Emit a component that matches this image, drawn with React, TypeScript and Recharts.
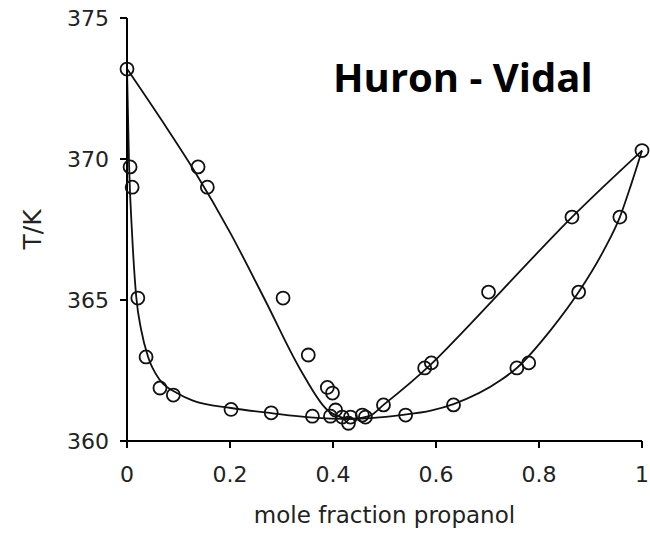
import { ComposedChart, Customized, Line, Scatter, XAxis, YAxis } from 'recharts'

// measured points (open circles)
const markerX = [
  0, 0.006, 0.01, 0.021, 0.037, 0.064, 0.09, 0.138, 0.156, 0.202, 0.28, 0.303, 0.352,
  0.36, 0.389, 0.399, 0.395, 0.405, 0.418, 0.434, 0.43, 0.457, 0.463, 0.498, 0.541,
  0.578, 0.591, 0.634, 0.702, 0.757, 0.78, 0.864, 0.877, 0.957, 1,
]
const markerT = [
  373.19, 369.72, 369.0, 365.07, 362.98, 361.88, 361.63, 369.72, 369.0, 361.12, 361.0, 365.07, 363.05,
  360.88, 361.9, 361.7, 360.88, 361.1, 360.85, 360.85, 360.63, 360.92, 360.85, 361.28, 360.92,
  362.59, 362.77, 361.28, 365.28, 362.59, 362.77, 367.94, 365.28, 367.94, 370.3,
]

// Huron-Vidal dew curve
const dewX = [0, 0.07, 0.13, 0.2, 0.268, 0.337, 0.389, 0.415, 0.435, 0.47, 0.498, 0.589, 0.661, 0.726, 0.864, 1]
const dewT = [373.2, 371.3, 369.6, 367.4, 365.0, 362.52, 361.1, 360.85, 360.78, 360.88, 361.28, 362.7, 364.04, 365.3, 367.94, 370.3]

// Huron-Vidal bubble curve
const bubbleX = [
  0, 0.004, 0.01, 0.018, 0.028, 0.041, 0.064, 0.097, 0.128, 0.202, 0.28, 0.356, 0.434,
  0.479, 0.531, 0.59, 0.634, 0.726, 0.757, 0.823, 0.877, 0.926, 0.957, 0.979, 1,
]
const bubbleT = [
  373.2, 369.8, 367.3, 365.1, 363.9, 362.98, 362.16, 361.7, 361.43, 361.17, 360.99, 360.84, 360.78,
  360.82, 360.92, 361.08, 361.31, 362.16, 362.59, 363.94, 365.28, 366.77, 367.94, 369.1, 370.3,
]

const xTicks = [0, 0.2, 0.4, 0.6, 0.8, 1]
const yTicks = [360, 365, 370, 375]

const zip = (xs: number[], ts: number[]) => xs.map((x, i) => ({ x, T: ts[i] }))

const markers = zip(markerX, markerT)
const dew = zip(dewX, dewT)
const bubble = zip(bubbleX, bubbleT)

const FONT = '"DejaVu Sans", sans-serif'
const INK = '#111'

function OpenCircle(props: any) {
  const { cx, cy } = props
  if (cx == null || cy == null) return <g />
  return <circle cx={cx} cy={cy} r={6.5} fill="none" stroke={INK} strokeWidth={1.8} />
}

function fmtX(v: number) {
  if (v === 0) return '0'
  if (v === 1) return '1'
  return v.toFixed(1)
}

export default function App() {
  return (
    <div style={{ position: 'absolute', left: 0, top: 0, width: 650, height: 533, background: '#fff' }}>
      <ComposedChart
        width={650}
        height={533}
        margin={{ top: 18, right: 8, bottom: 0, left: 0 }}
      >
        <XAxis
          dataKey="x"
          type="number"
          domain={[0, 1]}
          ticks={xTicks}
          tickFormatter={fmtX}
          height={92}
          tickSize={7}
          tickMargin={18}
          axisLine={{ stroke: '#000', strokeWidth: 2 }}
          tickLine={{ stroke: '#000', strokeWidth: 2 }}
          tick={{ fontSize: 22, fontFamily: FONT, fill: '#222' }}
          label={{
            value: 'mole fraction propanol',
            position: 'insideBottom',
            offset: 10,
            style: { fontSize: 23, fontFamily: FONT, fill: '#222' },
          }}
        />
        <XAxis
          xAxisId="top"
          orientation="top"
          dataKey="x"
          type="number"
          domain={[0, 1]}
          height={0}
          tick={false}
          tickLine={false}
          axisLine={{ stroke: '#000', strokeWidth: 2 }}
        />
        <YAxis
          dataKey="T"
          type="number"
          domain={[360, 375]}
          ticks={yTicks}
          width={127}
          tickSize={7}
          tickMargin={11}
          axisLine={{ stroke: '#000', strokeWidth: 2 }}
          tickLine={{ stroke: '#000', strokeWidth: 2 }}
          tick={{ fontSize: 22, fontFamily: FONT, fill: '#222' }}
          label={(p: any) => {
            const vb = p.viewBox || { y: 18, height: 423 }
            const cy = vb.y + vb.height / 2
            return (
              <text
                x={41}
                y={cy}
                transform={`rotate(-90, 41, ${cy})`}
                textAnchor="middle"
                fontSize={25}
                fontFamily={FONT}
                fill="#222"
              >
                T/K
              </text>
            )
          }}
        />
        <YAxis
          yAxisId="right"
          orientation="right"
          type="number"
          domain={[360, 375]}
          width={0}
          tick={false}
          tickLine={false}
          axisLine={{ stroke: '#000', strokeWidth: 2 }}
        />
        <Line
          data={dew}
          dataKey="T"
          type="monotone"
          stroke={INK}
          strokeWidth={1.8}
          dot={false}
          activeDot={false}
          isAnimationActive={false}
        />
        <Line
          data={bubble}
          dataKey="T"
          type="monotone"
          stroke={INK}
          strokeWidth={1.8}
          dot={false}
          activeDot={false}
          isAnimationActive={false}
        />
        <Scatter data={markers} dataKey="T" shape={OpenCircle} isAnimationActive={false} />
        <Customized
          component={() => (
            <text x={333} y={92} fontSize={40} fontWeight={700} fontFamily='"Open Sans", sans-serif' fill="#000">
              Huron - Vidal
            </text>
          )}
        />
      </ComposedChart>
    </div>
  )
}
